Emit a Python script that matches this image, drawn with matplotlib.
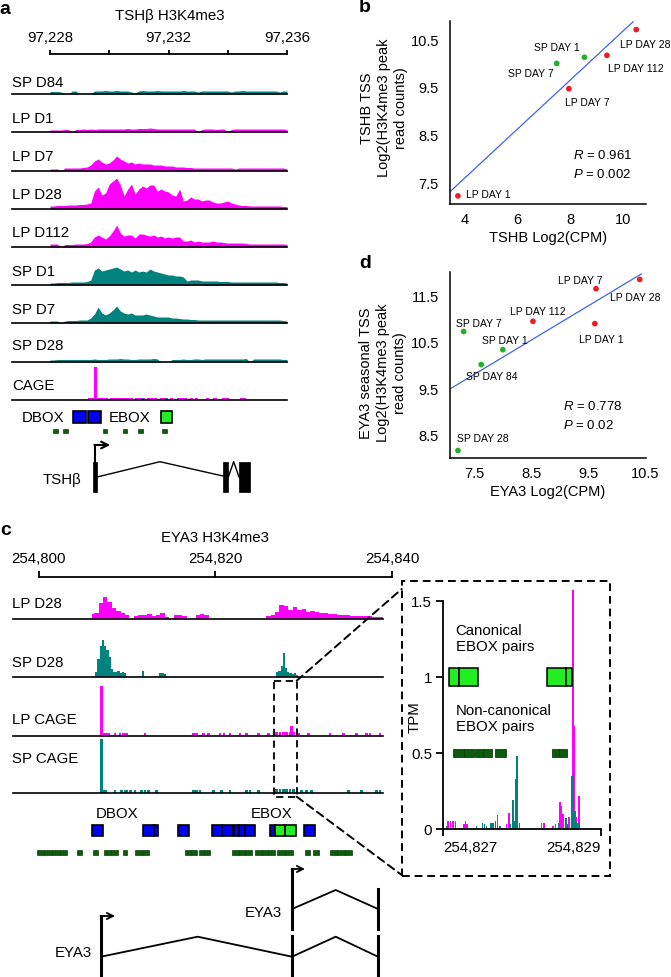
import numpy as np
import matplotlib
matplotlib.use('Agg')
import matplotlib.pyplot as plt
from matplotlib.patches import Rectangle, ConnectionPatch

plt.rcParams['font.family'] = ['Liberation Sans', 'DejaVu Sans']
plt.rcParams['mathtext.fontset'] = 'custom'
plt.rcParams['mathtext.rm'] = 'Liberation Sans'
plt.rcParams['mathtext.it'] = 'Liberation Sans:italic'

MAG = '#ff00ff'
TEAL = '#00837f'
RED = '#ee1c24'
GREEN = '#22b02a'
BLUE_LINE = '#4462e8'
BOX_BLUE = '#0000f2'
BOX_GREEN = '#22ee22'
NC_GREEN = '#0d5c0d'
FS = 10.8

# ======================= DATA =======================
# ---- panel a : TSHB H3K4me3 ----
a_title = 'TSHβ H3K4me3'
a_start, a_end = 97228, 97236
a_ticks = [97228, 97230, 97232, 97234, 97236]
a_ticklabels = ['97,228', '', '97,232', '', '97,236']
a_track_names = ['SP D84', 'LP D1', 'LP D7', 'LP D28', 'LP D112', 'SP D1', 'SP D7', 'SP D28']
a_track_groups = ['SP', 'LP', 'LP', 'LP', 'LP', 'SP', 'SP', 'SP']
# signal profiles, 65 bins across 97,228-97,236
a_sp_d84 = [2.5, 2.5, 2.5, 2, 0, 0, 3, 3, 0, 0, 0, 0, 3, 3, 3,
            3.5, 3, 3, 3.5, 3, 3, 3, 2, 1, 3, 3.5, 3, 3, 3, 3.5,
            3, 3, 3, 3, 3, 3, 3.5, 3, 3, 3, 2, 3, 3, 3, 3,
            3, 3, 3, 3, 2, 3, 3, 3.5, 3, 3, 3, 3, 3, 3, 3,
            3, 3, 2, 3, 3]
a_lp_d1 = [2, 2, 2, 2, 2.5, 2.5, 0, 2.5, 2.5, 3, 2.5, 3, 2.5, 3, 3,
           3, 3, 3, 3, 3, 3, 3.5, 3, 3, 3.5, 3.5, 3.5, 4, 3.5, 3,
           3, 3, 3, 3, 3, 3, 3, 3, 3, 3, 0, 2.5, 3, 3, 3,
           2.5, 3, 3, 0, 2.5, 3, 3, 3, 3, 3, 3, 3, 3, 3, 3,
           3, 3, 3, 3, 2.5]
a_lp_d7 = [2, 2, 2, 0, 3, 3, 3, 3, 3, 3.5, 4, 6, 10, 12, 9,
           7, 8, 11, 15, 12, 10, 8, 9, 7, 8, 7, 7, 7, 6, 6,
           6, 5, 5, 5, 4, 4, 4, 3.5, 3.5, 3, 3, 3, 3, 3, 3,
           3, 3, 3, 3, 3, 2, 3, 3, 3, 3, 3, 3, 3, 3, 3,
           3, 3, 3, 3, 2]
a_lp_d28 = [3, 3, 3.5, 3.5, 3.5, 4, 4, 4, 4.5, 4.5, 5, 6, 18, 22, 14,
            16, 25, 28, 31, 24, 13, 20, 25, 15, 20, 23, 21, 24, 24, 18,
            20, 18, 17, 14, 13, 20, 8, 9, 12, 10, 10, 8, 9, 9, 7,
            6, 6, 7, 8, 6, 5, 4, 3.5, 3.5, 3, 3, 3, 3, 3, 3,
            3, 3, 3, 2.5, 2.5]
a_lp_d112 = [3, 3, 3, 0, 2.5, 2.5, 2.5, 3, 3, 3, 3.5, 5, 10, 12, 10,
             8, 11, 16, 22, 14, 11, 12, 12, 9, 13, 13, 12, 11, 12, 10,
             11, 9, 10, 9, 10, 10, 6, 6, 7, 5, 6, 5, 5, 5, 6,
             5, 5, 4.5, 4, 4, 4, 4, 4, 3.5, 3, 3, 3, 3, 3, 3,
             3, 3, 3, 3, 2.5]
a_sp_d1 = [2, 2, 2.5, 2.5, 2.5, 2.5, 3, 3, 3, 3, 3.5, 5, 15, 17, 14,
           15, 16, 17, 18, 16, 14, 15, 13, 15, 13, 14, 13, 16, 14, 13,
           12, 11, 10, 10, 9, 9, 8, 4, 5, 5, 5, 4, 4, 4, 4,
           4, 3.5, 3.5, 3.5, 3, 3, 3, 3, 3, 3, 3, 3, 3, 3, 3,
           3, 3, 2.5, 2.5, 2]
a_sp_d7 = [2, 2, 2, 0, 2, 2.5, 2.5, 2.5, 3, 3, 3, 5, 9, 16, 10,
           8, 10, 13, 17, 12, 10, 9, 10, 8, 8, 8, 9, 8, 7, 6,
           6, 6, 6, 5, 5, 4.5, 4, 4, 3.5, 3.5, 3, 3, 3, 3, 3,
           3, 3, 3, 3, 3, 3, 3, 3, 3, 3, 3, 3, 3, 3, 3,
           3, 3, 3, 2.5, 2]
a_sp_d28 = [2, 2, 2.5, 2.5, 2.5, 2.5, 2.5, 2.5, 2.5, 2.5, 2.5, 2.5, 3, 2.5, 2.5,
            2.5, 3, 3, 3, 3.5, 3, 3, 2.5, 2.5, 3, 3, 3, 3, 3.5, 3,
            0, 0, 0, 2.5, 2.5, 2.5, 3, 2.5, 2.5, 3, 3, 2.5, 3, 3, 3,
            3, 3, 3, 3, 3, 3, 3, 3, 3.5, 0, 3, 3, 3, 3, 3,
            3, 3, 3, 2.5, 2.5]
a_profiles = [a_sp_d84, a_lp_d1, a_lp_d7, a_lp_d28, a_lp_d112, a_sp_d1, a_sp_d7, a_sp_d28]
# CAGE (offsets from 97,228)
a_cage_spike_pos = 1.54
a_cage_spike_lp = 33
a_cage_spike_sp = 6
a_cage_lp_pos = [1.328, 1.406, 1.485, 1.654, 1.744, 1.823, 1.913, 2.081, 2.194, 2.307, 2.419, 2.532,
                 2.644, 2.757, 2.925, 3.038, 3.15, 3.342, 3.432, 3.544, 3.769, 3.882, 4.107, 4.332,
                 4.444, 4.557, 4.782, 4.951, 5.311, 5.57, 5.874, 5.986, 6.47, 6.549]
a_cage_lp_val = [2, 2, 2, 2, 2, 2, 2, 2, 2, 2, 2, 2, 2, 2, 2, 2, 2, 2, 2, 2, 2, 2, 2, 2,
                 2, 2, 2, 2, 2, 2, 2, 2, 2, 2]
a_cage_sp_pos = [3.094, 3.938]
a_cage_sp_val = [2, 2]
# motifs (offsets from 97,228)
a_dbox = [(0.787, 1.215), (1.294, 1.712)]
a_ebox = [(3.747, 4.13)]
a_nc = [(0.11, 0.28), (0.45, 0.62), (1.80, 1.93), (2.47, 2.61), (2.98, 3.13), (3.79, 3.94)]
# gene model (offsets)
a_tss = 1.52
a_arrow_end = 2.03
a_exons = [(1.45, 1.59), (5.84, 6.02), (6.38, 6.75)]
a_intron_peaks = [3.71, 6.20]

# ---- panel b ----
b_labels = ['LP DAY 1', 'LP DAY 7', 'SP DAY 7', 'SP DAY 1', 'LP DAY 112', 'LP DAY 28']
b_x = [3.75, 7.95, 7.49, 8.54, 9.39, 10.50]
b_y = [7.21, 9.46, 9.99, 10.12, 10.16, 10.70]
b_group = ['LP', 'LP', 'SP', 'SP', 'LP', 'LP']
b_R, b_P = '0.961', '0.002'

# ---- panel d ----
d_labels = ['SP DAY 28', 'SP DAY 84', 'SP DAY 1', 'SP DAY 7', 'LP DAY 112', 'LP DAY 1', 'LP DAY 7', 'LP DAY 28']
d_x = [7.21, 7.62, 8.00, 7.31, 8.53, 9.62, 9.64, 10.41]
d_y = [8.16, 10.01, 10.33, 10.72, 10.94, 10.89, 11.64, 11.84]
d_group = ['SP', 'SP', 'SP', 'SP', 'LP', 'LP', 'LP', 'LP']
d_R, d_P = '0.778', '0.02'

# ---- panel c : EYA3 H3K4me3 ----
c_title = 'EYA3 H3K4me3'
c_start, c_end = 254800, 254840
c_ticks = [254800, 254820, 254840]
c_ticklabels = ['254,800', '254,820', '254,840']
c_track_names = ['LP D28', 'SP D28', 'LP CAGE', 'SP CAGE']
# LP D28 profile, 0.5 bins from offset 6.0 to 39.0
c_lp28_start = 6.0
c_lp28 = [5, 6, 16, 22, 17, 11, 8, 6, 4, 0,
          3, 4, 4, 5, 3, 4, 6, 2, 0, 4,
          4, 3, 0, 0, 4, 5, 4, 0, 0, 0,
          0, 0, 0, 0, 0, 0, 0, 0, 0, 0,
          3, 4, 7, 14, 13, 9, 12, 9, 10, 7,
          8, 7, 6, 6, 5, 5, 4, 4, 4, 3,
          3, 3, 3, 3, 2, 2, 2]
c_sp28_pos = [6.5, 6.75, 7.0, 7.25, 7.5, 7.75, 8.0, 8.25, 8.5, 8.75, 9.0, 9.25, 9.5, 9.75,
              11.75, 13.75, 14.0, 14.25,
              27.0, 27.25, 27.5, 27.75, 28.0, 28.25, 28.5, 28.75, 29.0, 29.25]
c_sp28_val = [5, 18, 31, 37, 31, 27, 20, 8, 5, 5, 6, 4, 5, 4,
              6, 4, 4, 3,
              5, 6, 11, 24, 9, 5, 4, 3, 4, 2]
c_cage_spike_pos = 7.10
c_lpcage_spike = 50
c_spcage_spike = 54
c_lpcage_pos = [7.29, 7.59, 7.86, 8.61, 9.18, 9.56, 9.93, 12.01, 17.49, 17.87, 18.62, 19.19,
                20.51, 20.96, 21.64, 22.78, 23.53, 24.85, 25.99, 26.93, 27.31, 27.69, 28.06,
                28.44, 28.63, 28.82, 29.46, 30.52, 32.97, 34.49, 36.00, 37.13, 37.51, 38.64]
c_lpcage_val = [3, 3, 3, 3, 3, 3, 3, 3, 3, 3, 3, 3,
                3, 3, 3, 3, 3, 3, 3, 4, 4, 4, 4,
                4, 10, 4, 3, 3, 3, 3, 3, 3, 3, 3]
c_spcage_pos = [7.29, 7.59, 8.61, 9.37, 9.75, 9.93, 10.39, 10.88, 11.63, 12.01, 12.39, 13.33,
                17.49, 17.87, 18.24, 19.75, 20.70, 21.64, 23.53, 23.91, 24.85, 26.93, 27.31,
                27.69, 28.06, 28.44, 28.82, 29.76, 30.33, 30.90, 35.05, 36.56, 38.26, 38.64]
c_spcage_val = [3, 3, 3, 3, 3, 3, 3, 3, 3, 3, 3, 3,
                3, 3, 3, 3, 3, 3, 3, 3, 3, 4, 4,
                4, 4, 4, 4, 3, 3, 3, 3, 3, 3, 3]
c_dbox = [(6.01, 7.25), (11.78, 13.03), (13.03, 13.48), (15.75, 17.0), (19.6, 20.77), (20.77, 21.98),
          (22.1, 22.66), (22.66, 23.34), (23.34, 24.48), (26.18, 26.74), (30.03, 31.27)]
c_ebox = [(26.74, 27.88), (27.88, 29.12)]
c_nc = [(-0.23, 0.57), (0.57, 1.47), (1.47, 2.38), (2.38, 3.17), (4.31, 4.87), (6.12, 6.69),
        (7.37, 8.16), (8.16, 8.95), (9.52, 9.97), (10.88, 11.67), (11.67, 12.46), (16.54, 17.22),
        (17.22, 17.9), (18.13, 18.75), (18.75, 19.38), (21.87, 22.63), (22.63, 23.39), (23.39, 24.14),
        (24.48, 25.23), (25.23, 25.98), (25.98, 26.74), (26.97, 27.88), (27.88, 28.78), (30.14, 30.71),
        (31.05, 31.73), (32.97, 33.8), (33.8, 34.64), (34.64, 35.47)]
c_zoom_region = (26.63, 29.2)
# gene models (offsets)
c_tss_long = 7.03
c_tss_short = 28.67
c_exon_mid = 28.67
c_exon_end = 38.41
c_peak_long = 17.98
c_peak_short = 33.62

# ---- inset ----
i_start, i_end = 254827, 254829
i_lp_pos = [0.063, 0.093, 0.127, 0.156, 0.262, 0.283, 0.304, 0.689, 0.803, 0.833, 1.247, 1.277,
            1.395, 1.425, 1.459, 1.480, 1.501, 1.522, 1.564, 1.594, 1.641, 1.662, 1.683, 1.704, 1.725]
i_lp_val = [0.05, 0.05, 0.05, 0.05, 0.03, 0.05, 0.03, 0.09, 0.03, 0.105, 0.04, 0.04,
            0.02, 0.03, 0.04, 0.18, 0.15, 0.10, 0.05, 0.08, 1.57, 0.68, 0.08, 0.04, 0.22]
i_sp_pos = [0.042, 0.423, 0.499, 0.524, 0.55, 0.605, 0.634, 0.66, 0.719, 0.854, 0.880, 0.905,
            0.918, 0.934, 0.968, 1.459, 1.552, 1.573, 1.628, 1.649, 1.670, 1.691, 1.717]
i_sp_val = [0.02, 0.02, 0.04, 0.03, 0.02, 0.04, 0.04, 0.05, 0.02, 0.03, 0.19, 0.05,
            0.33, 0.48, 0.04, 0.03, 0.07, 0.03, 0.35, 0.355, 0.12, 0.05, 0.04]
i_canon = [(0.076, 0.203), (0.203, 0.4355), (1.319, 1.552), (1.552, 1.628)]
i_noncanon = [(0.127, 0.262), (0.262, 0.393), (0.402, 0.507), (0.507, 0.613), (0.655, 0.791),
              (1.374, 1.471), (1.471, 1.573)]

# ======================= FIGURE =======================
W, H = 671, 978
fig = plt.figure(figsize=(W / 100, H / 100), dpi=100)


def add_ax(x0, y0, x1, y1):
    return fig.add_axes([x0 / W, 1 - y1 / H, (x1 - x0) / W, (y1 - y0) / H])


def col(g):
    return MAG if g == 'LP' else TEAL


# ---------------- panel a ----------------
A_PX0, A_PX1 = 50, 287
a_scale = (A_PX1 - A_PX0) / (a_end - a_start)


def a_gx(px):
    return a_start + (px - A_PX0) / a_scale


a_base = [95, 133, 172, 210, 248, 286, 324, 363, 401]
a_lab_y = [83, 119, 157, 195, 233, 272, 310, 346, 386]
TH = 36
for i, (vals, grp) in enumerate(zip(a_profiles, a_track_groups)):
    ax = add_ax(A_PX0, a_base[i] - TH, A_PX1, a_base[i])
    x = np.linspace(a_start, a_end, len(vals))
    ax.fill_between(x, 0, vals, color=col(grp), lw=0)
    ax.set_xlim(a_start, a_end)
    ax.set_ylim(0, TH)
    ax.axis('off')
ax = add_ax(A_PX0, a_base[8] - TH, A_PX1, a_base[8])
ax.bar(a_start + np.array(a_cage_lp_pos), a_cage_lp_val, width=0.11, color=MAG, lw=0)
ax.bar(a_start + np.array(a_cage_sp_pos), a_cage_sp_val, width=0.06, color=TEAL, lw=0)
ax.bar([a_start + a_cage_spike_pos], [a_cage_spike_lp], width=0.09, color=MAG, lw=0)
ax.bar([a_start + a_cage_spike_pos], [a_cage_spike_sp], width=0.05, color=TEAL, lw=0)
ax.set_xlim(a_start, a_end)
ax.set_ylim(0, TH)
ax.axis('off')

axA = add_ax(0, 0, 300, 500)
axA.set_xlim(a_gx(0), a_gx(300))
axA.set_ylim(500, 0)
axA.axis('off')
axA.text(a_gx(170), 16, a_title, ha='center', va='center', fontsize=FS)
axA.plot([a_start, a_end], [55, 55], color='k', lw=1.3, solid_capstyle='butt')
for t, lab in zip(a_ticks, a_ticklabels):
    axA.plot([t, t], [55.5, 50.5], color='k', lw=1.3, solid_capstyle='butt')
    if lab:
        axA.text(t, 38, lab, ha='center', va='center', fontsize=FS)
for i, name in enumerate(a_track_names + ['CAGE']):
    axA.plot([a_gx(12), a_end], [a_base[i], a_base[i]], color='k', lw=1.2)
    axA.text(a_gx(12), a_lab_y[i], name, ha='left', va='center', fontsize=FS)
axA.text(a_start - 0.236, 418, 'DBOX', ha='center', va='center', fontsize=FS)
axA.text(a_start + 2.684, 418, 'EBOX', ha='center', va='center', fontsize=FS)
for s, e in a_dbox:
    axA.add_patch(Rectangle((a_start + s, 412.3), e - s, 12, fc=BOX_BLUE, ec='k', lw=1.2))
for s, e in a_ebox:
    axA.add_patch(Rectangle((a_start + s, 412.3), e - s, 12, fc=BOX_GREEN, ec='k', lw=1.2))
for s, e in a_nc:
    axA.add_patch(Rectangle((a_start + s, 429.5), e - s, 4, fc=NC_GREEN, ec='#0a400a', lw=0.5))
# gene model
for s, e in a_exons:
    axA.add_patch(Rectangle((a_start + s, 462.7), e - s, 30, fc='k', ec='k', lw=0.5))
axA.plot([a_start + a_exons[0][1], a_start + a_intron_peaks[0], a_start + a_exons[1][0]],
         [478, 462.7, 477], color='k', lw=1.0)
axA.plot([a_start + a_exons[1][1], a_start + a_intron_peaks[1], a_start + a_exons[2][0]],
         [478, 462.7, 478], color='k', lw=1.0)
axA.plot([a_start + a_tss, a_start + a_tss], [463, 446], color='k', lw=1.5)
axA.annotate('', xy=(a_start + a_arrow_end, 446), xytext=(a_start + a_tss - 0.02, 446),
             arrowprops=dict(arrowstyle='->', lw=1.5, color='k', shrinkA=0, shrinkB=0,
                             mutation_scale=12))
axA.text(a_start + 0.405, 480, 'TSHβ', ha='center', va='center', fontsize=FS)


# ---------------- scatter panels ----------------
def scatter_panel(box, xs, ys, groups, labels, offs, xlim, ylim, xticks, yticks,
                  xlabel, ylabel, fit_x, rtxt, ptxt, rp_pos, ylab_x, ylab_y, xlab_y):
    x0, y0, x1, y1 = box
    ax = add_ax(x0, y0, x1, y1)
    ax.set_xlim(*xlim)
    ax.set_ylim(*ylim)
    for sp in ['top', 'right']:
        ax.spines[sp].set_visible(False)
    for sp in ['left', 'bottom']:
        ax.spines[sp].set_linewidth(1.1)
    ax.set_xticks(xticks)
    ax.set_yticks(yticks)
    ax.set_xticklabels([('%g' % t) for t in xticks])
    ax.set_yticklabels([('%g' % t) for t in yticks])
    ax.tick_params(length=0, labelsize=10.5)
    ax.tick_params(axis='y', pad=8)
    ax.tick_params(axis='x', pad=6)
    slope, icpt = np.polyfit(xs, ys, 1)
    fx = np.array(fit_x)
    ax.plot(fx, slope * fx + icpt, color=BLUE_LINE, lw=0.9, zorder=2)
    ax.scatter(xs, ys, s=17, c=[RED if g == 'LP' else GREEN for g in groups],
               edgecolors='none', zorder=3)
    for xx, yy, lab, (dx, dy, ha) in zip(xs, ys, labels, offs):
        ax.annotate(lab, (xx, yy), xytext=(dx * 0.72, -dy * 0.72), textcoords='offset points',
                    ha=ha, va='center', fontsize=7.5)
    ax.text(rp_pos[0], rp_pos[1], r'$\it{R}$ = ' + rtxt, transform=ax.transAxes,
            ha='left', va='center', fontsize=9.5)
    ax.text(rp_pos[0], rp_pos[2], r'$\it{P}$ = ' + ptxt, transform=ax.transAxes,
            ha='left', va='center', fontsize=9.5)
    hpx = y1 - y0
    wpx = x1 - x0
    ax.text(0.5, -(xlab_y - y1) / hpx, xlabel, transform=ax.transAxes, ha='center',
            va='center', fontsize=10.5)
    ax.text((ylab_x - x0) / wpx, (y1 - ylab_y) / hpx, ylabel, transform=ax.transAxes,
            ha='center', va='center', rotation=90, fontsize=10.5, linespacing=1.3,
            multialignment='center')
    return ax


b_offs = [(8, -2, 'left'), (18, 13, 'center'), (-3, 10, 'right'), (-28, -10, 'center'),
          (1, 13, 'left'), (-16, 14, 'left')]
scatter_panel((450, 22, 646, 205), b_x, b_y, b_group, b_labels, b_offs,
              (3.45, 10.87), (7.04, 10.88), [4, 6, 8, 10], [7.5, 8.5, 9.5, 10.5],
              'TSHB Log2(CPM)', 'TSHB TSS\nLog2(H3K4me3 peak\nread counts)',
              [3.45, 10.38], b_R, b_P, (0.628, 0.273, 0.169), 384, 108, 238)

d_offs = [(25, -13, 'center'), (11, 11, 'center'), (2, -10, 'center'), (15, -9, 'center'),
          (5, -10, 'center'), (6, 15, 'center'), (-16, -9, 'center'), (-5, 18, 'center')]
scatter_panel((450, 273, 646, 459), d_x, d_y, d_group, d_labels, d_offs,
              (7.07, 10.52), (8.0, 12.0), [7.5, 8.5, 9.5, 10.5], [8.5, 9.5, 10.5, 11.5],
              'EYA3 Log2(CPM)', 'EYA3 seasonal TSS\nLog2(H3K4me3 peak\nread counts)',
              [7.07, 10.44], d_R, d_P, (0.577, 0.281, 0.179), 383, 373, 492)

# ---------------- panel c ----------------
C_PX0, C_PX1 = 39, 392
c_scale = (C_PX1 - C_PX0) / (c_end - c_start)


def c_gx(px):
    return c_start + (px - C_PX0) / c_scale


c_base = [620, 678, 737, 794]
c_lab_y = [604, 663, 720, 759]
CH = 55
# LP D28
ax = add_ax(C_PX0, c_base[0] - CH, C_PX1, c_base[0])
xx = c_start + c_lp28_start + 0.5 * np.arange(len(c_lp28))
ax.fill_between(xx, 0, c_lp28, step='mid', color=MAG, lw=0)
ax.set_xlim(c_start, c_end); ax.set_ylim(0, CH); ax.axis('off')
# SP D28
ax = add_ax(C_PX0, c_base[1] - CH, C_PX1, c_base[1])
ax.bar(c_start + np.array(c_sp28_pos), c_sp28_val, width=0.26, color=TEAL, lw=0)
ax.set_xlim(c_start, c_end); ax.set_ylim(0, CH); ax.axis('off')
# LP CAGE
ax = add_ax(C_PX0, c_base[2] - CH, C_PX1, c_base[2])
ax.bar(c_start + np.array(c_lpcage_pos), c_lpcage_val, width=0.3, color=MAG, lw=0)
ax.bar([c_start + c_cage_spike_pos], [c_lpcage_spike], width=0.33, color=MAG, lw=0)
ax.set_xlim(c_start, c_end); ax.set_ylim(0, CH); ax.axis('off')
# SP CAGE
ax = add_ax(C_PX0, c_base[3] - CH, C_PX1, c_base[3])
ax.bar(c_start + np.array(c_spcage_pos), c_spcage_val, width=0.3, color=TEAL, lw=0)
ax.bar([c_start + c_cage_spike_pos], [c_spcage_spike], width=0.33, color=TEAL, lw=0)
ax.set_xlim(c_start, c_end); ax.set_ylim(0, CH); ax.axis('off')

axC = add_ax(0, 525, 400, 978)
axC.set_xlim(c_gx(0), c_gx(400))
axC.set_ylim(978, 525)
axC.axis('off')
axC.text(c_gx(215), 538, c_title, ha='center', va='center', fontsize=FS)
axC.plot([c_start, c_end], [578, 578], color='k', lw=1.3, solid_capstyle='butt')
for t, lab in zip(c_ticks, c_ticklabels):
    axC.plot([t, t], [578.5, 572], color='k', lw=1.3, solid_capstyle='butt')
    axC.text(t, 559, lab, ha='center', va='center', fontsize=FS)
for i, name in enumerate(c_track_names):
    axC.plot([c_gx(13), c_gx(383)], [c_base[i], c_base[i]], color='k', lw=1.2)
    axC.text(c_gx(12), c_lab_y[i], name, ha='left', va='center', fontsize=FS)
axC.text(c_gx(117), 814, 'DBOX', ha='center', va='center', fontsize=FS)
axC.text(c_gx(272), 814, 'EBOX', ha='center', va='center', fontsize=FS)
for s, e in c_dbox:
    axC.add_patch(Rectangle((c_start + s, 825.7), e - s, 11.6, fc=BOX_BLUE, ec='k', lw=1.2))
for s, e in c_ebox:
    axC.add_patch(Rectangle((c_start + s, 825.7), e - s, 11.6, fc=BOX_GREEN, ec='k', lw=1.2))
for s, e in c_nc:
    axC.add_patch(Rectangle((c_start + s, 851), e - s, 5, fc=NC_GREEN, ec='#0a400a', lw=0.5))
dash = (0, (4, 2.5))
zs, ze = c_zoom_region
axC.add_patch(Rectangle((c_start + zs, 681.7), ze - zs, 116, fill=False, ec='k', lw=1.3,
                        ls=dash))
# gene models
LW_I = 1.3
LW_E = 2.2
# short isoform
axC.plot([c_start + c_tss_short] * 2, [870, 930], color='k', lw=LW_E)
axC.annotate('', xy=(c_start + c_tss_short + 1.47, 870), xytext=(c_start + c_tss_short - 0.05, 870),
             arrowprops=dict(arrowstyle='->', lw=1.3, color='k', shrinkA=0, shrinkB=0,
                             mutation_scale=11))
axC.plot([c_start + c_tss_short, c_start + c_peak_short, c_start + c_exon_end],
         [910, 891, 910], color='k', lw=LW_I)
axC.plot([c_start + c_exon_end] * 2, [890, 930], color='k', lw=LW_E)
axC.text(c_gx(282), 912.7, 'EYA3', ha='right', va='center', fontsize=FS)
# long isoform
axC.plot([c_start + c_tss_long] * 2, [917, 977], color='k', lw=LW_E)
axC.annotate('', xy=(c_start + c_tss_long + 1.58, 917), xytext=(c_start + c_tss_long - 0.05, 917),
             arrowprops=dict(arrowstyle='->', lw=1.3, color='k', shrinkA=0, shrinkB=0,
                             mutation_scale=11))
axC.plot([c_start + c_tss_long, c_start + c_peak_long, c_start + c_exon_mid],
         [957.7, 937.7, 957.7], color='k', lw=LW_I)
axC.plot([c_start + c_exon_mid, c_start + c_peak_short, c_start + c_exon_end],
         [957.7, 937.7, 957.7], color='k', lw=LW_I)
axC.plot([c_start + c_exon_mid] * 2, [937, 977], color='k', lw=LW_E)
axC.plot([c_start + c_exon_end] * 2, [937, 977], color='k', lw=LW_E)
axC.text(c_gx(92), 953, 'EYA3', ha='right', va='center', fontsize=FS)

# ---------------- inset ----------------
I_PPU = 152.0
i_ylim = (0, 1.58)
axI = add_ax(443.3, 830 - i_ylim[1] * I_PPU, 601, 830)
axI.bar(i_start + np.array(i_lp_pos), i_lp_val, width=0.021, color=MAG, lw=0)
axI.bar(i_start + np.array(i_sp_pos), i_sp_val, width=0.021, color=TEAL, lw=0)
for s, e in i_canon:
    axI.add_patch(Rectangle((i_start + s, 0.939), e - s, 0.12, fc=BOX_GREEN, ec='k', lw=1.1))
for s, e in i_noncanon:
    axI.add_patch(Rectangle((i_start + s, 0.472), e - s, 0.054, fc=NC_GREEN, ec='#0a400a', lw=0.6))
axI.set_xlim(i_start, i_end)
axI.set_ylim(*i_ylim)
for sp in ['top', 'right']:
    axI.spines[sp].set_visible(False)
for sp in ['left', 'bottom']:
    axI.spines[sp].set_linewidth(1.3)
axI.spines['left'].set_bounds(0, 1.5)
axI.set_yticks([0, 0.5, 1, 1.5])
axI.set_yticklabels(['0', '0.5', '1', '1.5'])
axI.set_xticks([i_start, i_end])
axI.set_xticklabels(['254,827', '254,829'])
for lbl, ha in zip(axI.get_xticklabels(), ['left', 'right']):
    lbl.set_ha(ha)
axI.tick_params(direction='out', length=5, width=1.3, labelsize=FS, pad=3)
axI.text(i_start + 0.157, 1.259, 'Canonical\nEBOX pairs', ha='left', va='center',
         fontsize=FS, linespacing=1.2)
axI.text(i_start + 0.157, 0.73, 'Non-canonical\nEBOX pairs', ha='left', va='center',
         fontsize=FS, linespacing=1.2)
axI.text((415 - 443.3) / 157.7, (830 - 717) / (i_ylim[1] * I_PPU), 'TPM', transform=axI.transAxes,
         rotation=90, ha='center', va='center', fontsize=FS)

# inset frame and connectors
fig.add_artist(Rectangle((401.7 / W, 1 - 876.7 / H), (609.7 - 401.7) / W, (876.7 - 582.3) / H,
                         transform=fig.transFigure, fill=False, ec='k', lw=1.4, ls=dash))
for ya, yb in [(681.7, 590), (797.7, 876)]:
    con = ConnectionPatch(xyA=(c_start + ze, ya), coordsA=axC.transData,
                          xyB=(401.7 / W, 1 - yb / H), coordsB=fig.transFigure,
                          color='k', lw=1.4, ls=dash)
    fig.add_artist(con)

# panel letters
for lab, px, py in [('a', 5, 9), ('b', 365, 8), ('c', 6, 531), ('d', 365, 264)]:
    fig.text(px / W, 1 - py / H, lab, fontsize=14, fontweight='bold', ha='center', va='center')

fig.savefig('out.png', dpi=100, facecolor='white')
